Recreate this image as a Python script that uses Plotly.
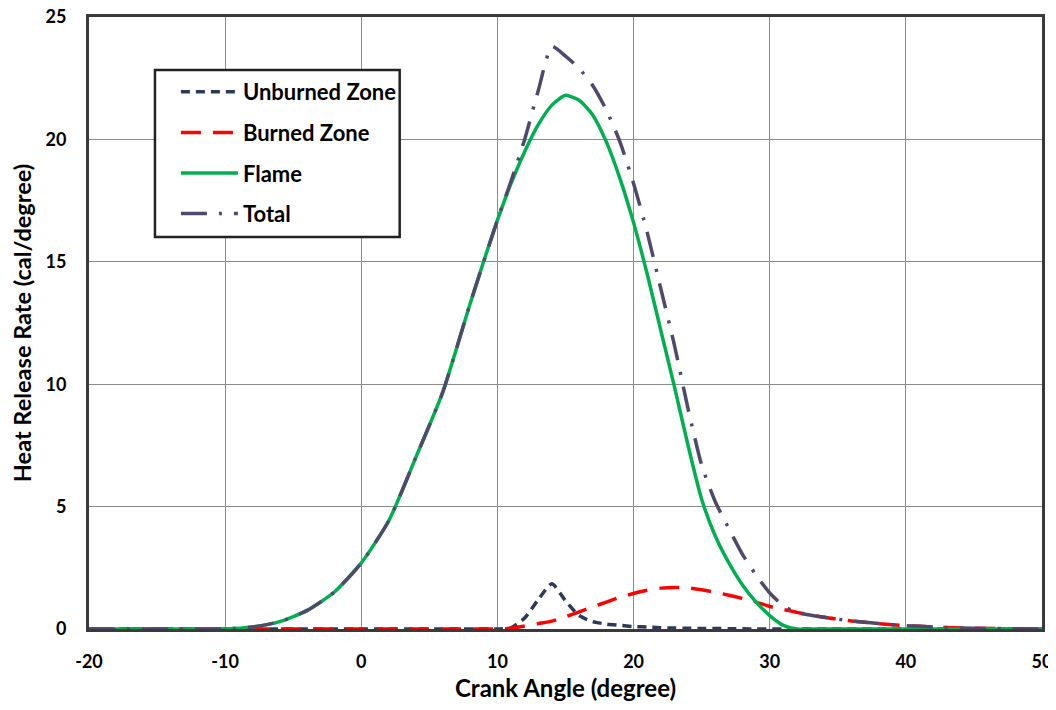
import plotly.graph_objects as go

crank_angle = [-20, -16, -12, -10, -8, -6, -4, -2, 0, 2, 4, 6, 8, 10, 11, 12, 13, 14, 15, 16, 17, 18, 19, 20,
               21, 22, 23, 24, 25, 26, 27, 28, 29, 30, 31, 32, 34, 36, 38, 40, 42, 45, 50]

unburned = [0, 0, 0, 0, 0, 0, 0, 0, 0, 0, 0, 0, 0, 0, 0.05, 0.45, 1.2, 1.85, 1.15, 0.55, 0.3, 0.2, 0.15, 0.1,
            0.08, 0.05, 0.04, 0.03, 0.02, 0.02, 0.01, 0.01, 0, 0, 0, 0, 0, 0, 0, 0, 0, 0, 0]

burned = [0, 0, 0, 0, 0, 0, 0, 0, 0, 0, 0, 0, 0, 0, 0.03, 0.12, 0.22, 0.32, 0.5, 0.7, 0.9, 1.1, 1.3, 1.45,
          1.58, 1.67, 1.7, 1.68, 1.6, 1.5, 1.38, 1.25, 1.1, 0.92, 0.8, 0.68, 0.48, 0.33, 0.22, 0.14, 0.08, 0.03, 0]

flame = [0, 0, 0, 0, 0.08, 0.3, 0.75, 1.5, 2.7, 4.4, 7.0, 9.7, 13.3, 16.7, 18.2, 19.5, 20.6, 21.4, 21.8, 21.6,
         21.0, 19.9, 18.4, 16.6, 14.5, 12.2, 9.9, 7.5, 5.3, 3.8, 2.7, 1.8, 1.1, 0.55, 0.15, 0, 0, 0, 0, 0, 0, 0, 0]

total = [0, 0, 0, 0, 0.08, 0.3, 0.75, 1.5, 2.7, 4.4, 7.0, 9.7, 13.3, 16.7, 18.3, 20.0, 22.0, 23.8, 23.4, 22.9,
         22.2, 21.2, 19.9, 18.2, 16.2, 13.9, 11.6, 9.0, 6.7, 5.2, 4.1, 3.05, 2.2, 1.47, 0.95, 0.68, 0.48, 0.33,
         0.22, 0.14, 0.08, 0.03, 0]

x_ticks = [-20, -10, 0, 10, 20, 30, 40, 50]
x_tick_text = ["-20", "-10", "0", "10", "20", "30", "40", "50"]
y_ticks = [0, 5, 10, 15, 20, 25]

fig = go.Figure()
fig.add_trace(go.Scatter(x=crank_angle, y=unburned, name="Unburned Zone", mode="lines", legendgroup="a",
                         line=dict(color="#2E3B57", width=3.5, dash="9px,6px", shape="spline", smoothing=0.6)))
fig.add_trace(go.Scatter(x=crank_angle, y=burned, name="Burned Zone", mode="lines", legendgroup="b",
                         line=dict(color="#FF0000", width=3.5, dash="20px,12px", shape="spline", smoothing=0.6)))
fig.add_trace(go.Scatter(x=crank_angle, y=flame, name="Flame", mode="lines", legendgroup="c",
                         line=dict(color="#00B050", width=3.5, shape="spline", smoothing=0.6)))
fig.add_trace(go.Scatter(x=crank_angle, y=total, name="Total", mode="lines", legendgroup="d",
                         line=dict(color="#4F4A6C", width=3.5, dash="26px,12px,3px,12px", shape="spline", smoothing=0.6)))

# legend frame (white box with black border)
fig.add_shape(type="rect", xref="paper", yref="paper", x0=0.0692, x1=0.326, y0=0.6405, y1=0.9134,
              line=dict(color="#222222", width=2.5), fillcolor="white", layer="above")

fig.update_layout(
    width=1048, height=694,
    margin=dict(l=81, r=14, t=9, b=73),
    paper_bgcolor="white", plot_bgcolor="white",
    font=dict(family="Lato, Carlito, Calibri, sans-serif", size=17, color="black"),
    legend=dict(x=0.0912, y=0.9118, xanchor="left", yanchor="top",
                bgcolor="rgba(0,0,0,0)", borderwidth=0,
                font=dict(size=22, family="Lato, sans-serif", weight="bold"),
                traceorder="grouped", tracegroupgap=9, itemwidth=57),
)
fig.update_xaxes(range=[-20, 50], tickvals=x_ticks, ticktext=x_tick_text, showgrid=True,
                 gridcolor="#8C8C8C", gridwidth=1, automargin=False, ticklabeloverflow="allow",
                 showline=True, linecolor="#3A3A3A", linewidth=3, mirror=True, zeroline=False,
                 ticks="", ticklabelstandoff=14,
                 tickfont=dict(size=18, weight="bold"),
                 title=dict(text="<b>Crank Angle (degree)</b>", font=dict(size=24), standoff=10))
fig.update_yaxes(range=[0, 25], tickvals=y_ticks, showgrid=True, gridcolor="#8C8C8C", gridwidth=1,
                 automargin=False, ticklabeloverflow="allow",
                 showline=True, linecolor="#3A3A3A", linewidth=3, mirror=True, zeroline=False,
                 ticks="", ticklabelstandoff=16,
                 tickfont=dict(size=18, weight="bold"),
                 title=dict(text="<b>Heat Release Rate (cal/degree)</b>", font=dict(size=23.5), standoff=10))

fig.write_html("out.html")
